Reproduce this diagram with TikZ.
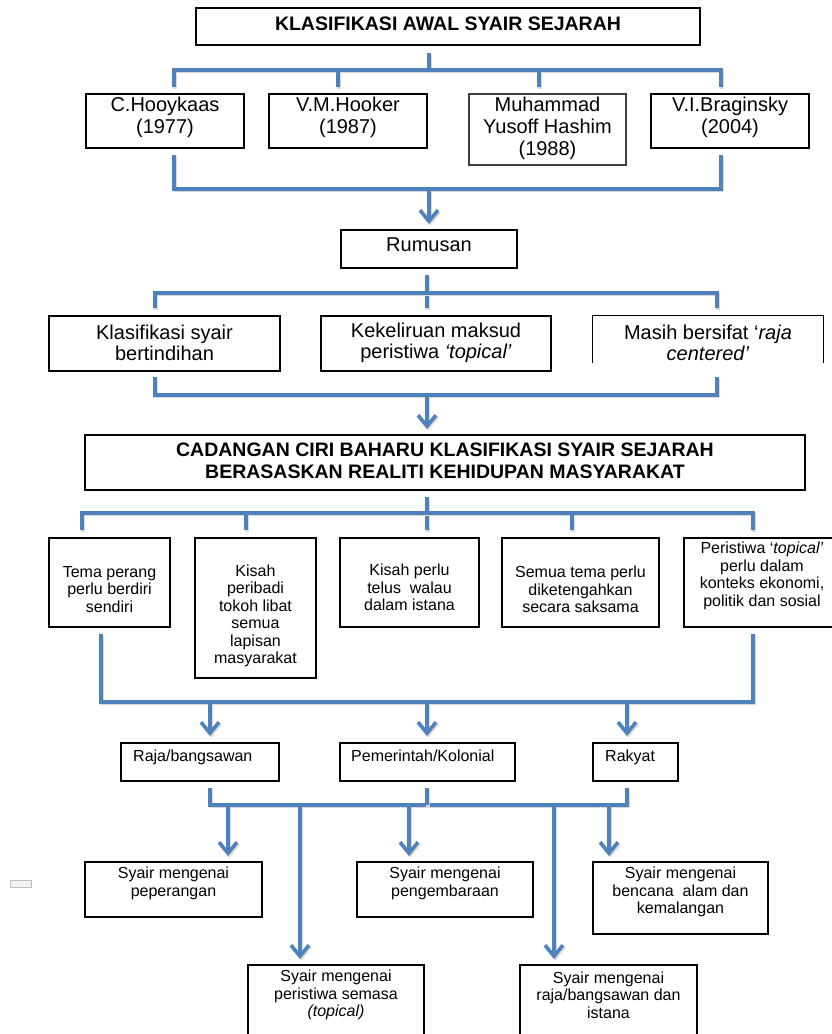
\documentclass[tikz,border=0pt]{standalone}
\usepackage{fontspec}
\setmainfont{Liberation Sans}
\usetikzlibrary{arrows.meta}
\definecolor{lineblue}{RGB}{79,129,189}
\tikzset{
  conn/.style={draw=lineblue, line width=3.6pt,
    preaction={draw=black!15, line width=3.6pt, transform canvas={shift={(1.2pt,-1.6pt)}}}},
  arr/.style={conn, -{Straight Barb[length=11pt,width=18pt]}},
  box/.style={draw, line width=1.1pt, inner sep=0pt},
  bigtxt/.style={inner sep=0pt, align=center, font=\fontsize{20}{22}\selectfont},
  boldtxt/.style={inner sep=0pt, align=center, font=\fontsize{19.5}{21.7}\selectfont\bfseries},
  smalltxt/.style={inner sep=0pt, align=center, font=\fontsize{16}{17.5}\selectfont},
}
\begin{document}
\begin{tikzpicture}[x=1pt,y=-1pt]
\useasboundingbox (0,0) rectangle (832,1034);
\clip (0,0) rectangle (832,1034);
\fill[white] (0,0) rectangle (832,1034);

% ---------- boxes ----------
\node[box, minimum width=504, minimum height=37] (title) at (448,26.5) {};
\node[boldtxt] (titlet) at (448,24) {KLASIFIKASI AWAL SYAIR SEJARAH};

\node[box, minimum width=158, minimum height=54] (hk) at (165,121) {};
\node[bigtxt] (hkt) at (165,117) {C.Hooykaas\\(1977)};
\node[box, minimum width=158, minimum height=54] (vm) at (348,121) {};
\node[bigtxt] (vmt) at (348,117) {V.M.Hooker\\(1987)};
\node[box, draw=black!75, minimum width=157, minimum height=71] (mh) at (547.5,129.5) {};
\node[bigtxt] (mht) at (547.5,128) {Muhammad\\Yusoff Hashim\\(1988)};
\node[box, minimum width=158, minimum height=54] (vb) at (730,121) {};
\node[bigtxt] (vbt) at (730,117) {V.I.Braginsky\\(2004)};

\node[box, minimum width=176, minimum height=38] (rum) at (429,249) {};
\node[bigtxt] (rumt) at (429,245) {Rumusan};

\node[box, minimum width=231, minimum height=55] (k1) at (164.5,343.5) {};
\node[bigtxt, font=\fontsize{20}{21}\selectfont] (k1t) at (164.5,342.5) {Klasifikasi syair\\bertindihan};
\node[box, minimum width=230, minimum height=55] (k2) at (436,343.5) {};
\node[bigtxt, font=\fontsize{20}{21}\selectfont] (k2t) at (436,342.5) {Kekeliruan maksud\\peristiwa \textit{‘topical’}};
\node[inner sep=0pt, minimum width=230, minimum height=55] (k3) at (708,343.5) {};
\draw[line width=1.1pt] ([yshift=8pt]k3.south west) -- (k3.north west) -- (k3.north east) -- ([yshift=8pt]k3.south east);
\node[bigtxt, font=\fontsize{20}{21}\selectfont] (k3t) at (708,342.5) {Masih bersifat ‘\textit{raja}\\\textit{centered’}};

\node[box, minimum width=720, minimum height=55] (big) at (445,462.5) {};
\node[boldtxt] (bigt) at (445,461) {CADANGAN CIRI BAHARU KLASIFIKASI SYAIR SEJARAH\\BERASASKAN REALITI KEHIDUPAN MASYARAKAT};

\node[box, minimum width=121, minimum height=89] (r1) at (109.5,582.5) {};
\node[smalltxt] (r1t) at (109.5,589.5) {Tema perang\\perlu berdiri\\sendiri};
\node[box, minimum width=121, minimum height=140] (r2) at (255.5,608) {};
\node[smalltxt] (r2t) at (255.5,616) {Kisah\\peribadi\\tokoh libat\\semua\\lapisan\\masyarakat};
\node[box, minimum width=139, minimum height=89] (r3) at (409.5,582.5) {};
\node[smalltxt] (r3t) at (409.5,587.5) {Kisah perlu\\telus\ \ walau\\dalam istana};
\node[box, minimum width=157, minimum height=89] (r4) at (580.5,582.5) {};
\node[smalltxt] (r4t) at (580.5,589.5) {Semua tema perlu\\diketengahkan\\secara saksama};
\node[box, minimum width=158, minimum height=89] (r5) at (763,582.5) {};
\node[smalltxt] (r5t) at (762,576) {Peristiwa ‘\textit{topical’}\\perlu dalam\\konteks ekonomi,\\politik dan sosial};

\node[box, minimum width=158, minimum height=38] (p1) at (200,762) {};
\node[smalltxt, anchor=base west] (p1t) at (133,761) {Raja/bangsawan};
\node[box, minimum width=175, minimum height=38] (p2) at (427.5,762) {};
\node[smalltxt, anchor=base west] (p2t) at (351,761) {Pemerintah/Kolonial};
\node[box, minimum width=85, minimum height=38] (p3) at (635.5,762) {};
\node[smalltxt, anchor=base west] (p3t) at (605,761) {Rakyat};

\node[box, minimum width=177, minimum height=55] (s1) at (173.5,889.5) {};
\node[smalltxt] (s1t) at (173.5,883.5) {Syair mengenai\\peperangan};
\node[box, minimum width=176, minimum height=55] (s2) at (445,889.5) {};
\node[smalltxt] (s2t) at (445,883.5) {Syair mengenai\\pengembaraan};
\node[box, minimum width=175, minimum height=72] (s3) at (680.5,898) {};
\node[smalltxt] (s3t) at (680.5,892) {Syair mengenai\\bencana\ \ alam dan\\kemalangan};
\node[box, minimum width=176, minimum height=80] (s4) at (336,1005) {};
\node[smalltxt] (s4t) at (336,995) {Syair mengenai\\peristiwa semasa\\\textit{(topical)}};
\node[box, minimum width=177, minimum height=80] (s5) at (608.5,1005) {};
\node[smalltxt] (s5t) at (608.5,995) {Syair mengenai\\raja/bangsawan dan\\istana};

% small grey artifact
\node[draw=black!25, fill=black!5, line width=0.6pt, minimum width=21, minimum height=7, inner sep=0pt] (icon) at (21,883.5) {};

% ---------- connectors ----------
% layer 1
\coordinate (a0) at (429,53); \coordinate (a1) at (429,70);
\coordinate (a2) at (174,87); \coordinate (a3) at (338,87);
\coordinate (a4) at (539,87); \coordinate (a5) at (721,87);
\draw[conn] (a0) -- (a1);
\draw[conn] (a2) |- (a1) -| (a5);
\draw[conn] (a3 |- a1) -- (a3);
\draw[conn] (a4 |- a1) -- (a4);
% layer 2
\coordinate (b1) at (174,155); \coordinate (b2) at (721,155);
\coordinate (b0) at (429,189); \coordinate (b3) at (429,224);
\draw[conn] (b1) |- (b0) -| (b2);
\draw[arr] (b0) -- (b3);
% layer 3
\coordinate (c0) at (427,275); \coordinate (c1) at (427,293);
\coordinate (c2) at (155,308); \coordinate (c3) at (717,308); \coordinate (c4) at (427,308);
\draw[conn] (c0) -- (c4);
\draw[conn] (c2) |- (c1) -| (c3);
% layer 4
\coordinate (d1) at (155,377); \coordinate (d2) at (717,377);
\coordinate (d0) at (427,395); \coordinate (d3) at (427,429);
\draw[conn] (d1) |- (d0) -| (d2);
\draw[arr] (d0) -- (d3);
% layer 5
\coordinate (e0) at (427,497); \coordinate (e1) at (427,513);
\coordinate (e2) at (82,530); \coordinate (e3) at (246,530); \coordinate (e4) at (427,530);
\coordinate (e5) at (572,530); \coordinate (e6) at (753,530);
\draw[conn] (e0) -- (e4);
\draw[conn] (e2) |- (e1) -| (e6);
\draw[conn] (e3 |- e1) -- (e3);
\draw[conn] (e5 |- e1) -- (e5);
% layer 6
\coordinate (f1) at (101,634); \coordinate (f2) at (753,634);
\coordinate (f0) at (427,702); \coordinate (fa) at (210,702); \coordinate (fc) at (627,702);
\coordinate (ga) at (210,736); \coordinate (gb) at (427,736); \coordinate (gc) at (627,736);
\draw[conn] (f1) |- (f0) -| (f2);
\draw[arr] (fa) -- (ga);
\draw[arr] (f0) -- (gb);
\draw[arr] (fc) -- (gc);
% layer 7
\coordinate (h1) at (210,788); \coordinate (h2) at (427,788); \coordinate (h3) at (627,788);
\coordinate (h0) at (427,805);
\draw[conn] (h1) |- (h0) -| (h3);
\draw[conn] (h2) -- (h0);
\coordinate (k1) at (228,805); \coordinate (m1) at (228,856);
\coordinate (k2) at (300,805); \coordinate (m2) at (300,959);
\coordinate (k3) at (409,805); \coordinate (m3) at (409,856);
\coordinate (k4) at (554,805); \coordinate (m4) at (554,959);
\coordinate (k5) at (609,805); \coordinate (m5) at (609,856);
\draw[arr] (k1) -- (m1);
\draw[arr] (k2) -- (m2);
\draw[arr] (k3) -- (m3);
\draw[arr] (k4) -- (m4);
\draw[arr] (k5) -- (m5);
\end{tikzpicture}
\end{document}
